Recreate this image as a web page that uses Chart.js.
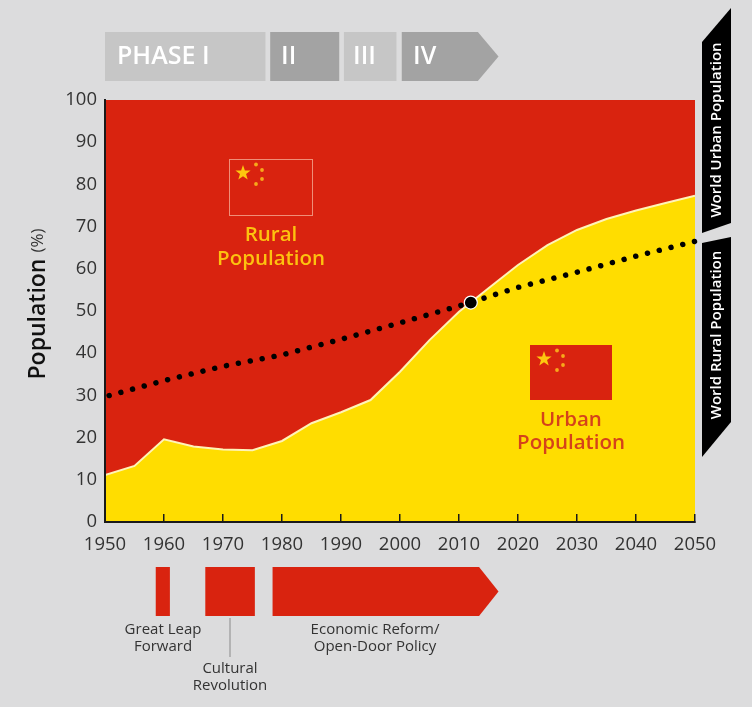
<!DOCTYPE html>
<html>
<head>
<meta charset="utf-8">
<title>China urban and rural population</title>
<script src="https://cdn.jsdelivr.net/npm/chart.js@4"></script>
<style>
    html, body { margin: 0; padding: 0; background: #dcdcdd; }
    canvas { display: block; }
</style>
</head>
<body>
<canvas id="popChart" width="752" height="707"></canvas>
<script>
// China urban share
const urbanYears = [1950, 1955, 1960, 1965, 1970, 1975, 1980, 1985, 1990, 1995, 2000, 2005, 2010, 2015, 2020, 2025, 2030, 2035, 2040, 2045, 2050];
const urbanShare = [11.1, 13.3, 19.6, 17.9, 17.2, 17.0, 19.2, 23.4, 26.0, 28.9, 35.6, 43.1, 49.8, 55.4, 60.9, 65.6, 69.2, 71.8, 73.8, 75.6, 77.3];

// World urban share (dotted line)
const worldYears = [1950, 1960, 1970, 1980, 1990, 2000, 2010, 2020, 2030, 2040, 2050];
const worldShare = [29.7, 33.5, 36.9, 39.6, 43.3, 47.2, 51.2, 55.6, 59.2, 63.0, 66.5];

// Top edge of the rural area
const ruralYears = [1950, 2050];
const ruralTop = [100, 100];

// Crossover point
const crossYear = [2012];
const crossShare = [52];

// Phases across the top
const phaseNames = ['PHASE I', 'II', 'III', 'IV'];
const phaseStart = [1950, 1978, 1990.5, 2000.3];
const phaseEnd = [1977.2, 1989.7, 1999.4, 2013.2];

// Policy periods below the axis
const policyStart = [1958.6, 1967, 1978.4];
const policyEnd = [1961, 1975.4, 2013.4];
const arrowTipYear = 2016.7;

const RED = '#d9230f';
const YELLOW = '#ffdd00';
const FONT = '"Open Sans", sans-serif';

function drawStar(ctx, cx, cy, r, color) {
    ctx.fillStyle = color;
    ctx.beginPath();
    for (let i = 0; i < 10; i++) {
        const rad = i % 2 ? r * 0.4 : r;
        const a = -Math.PI / 2 + i * Math.PI / 5;
        ctx.lineTo(cx + rad * Math.cos(a), cy + rad * Math.sin(a));
    }
    ctx.closePath();
    ctx.fill();
}

function drawFlag(ctx, x, y, w, h, outline) {
    ctx.fillStyle = RED;
    ctx.fillRect(x, y, w, h);
    if (outline) {
        ctx.strokeStyle = outline;
        ctx.lineWidth = 1;
        ctx.strokeRect(x + 0.5, y + 0.5, w - 1, h - 1);
    }
    drawStar(ctx, x + 14, y + 14, 8, '#fdc70f');
    [[27, 5.5], [33, 11], [33, 20], [27, 25]].forEach(p => {
        ctx.fillStyle = '#f7a81b';
        ctx.beginPath();
        ctx.arc(x + p[0], y + p[1], 1.9, 0, Math.PI * 2);
        ctx.fill();
    });
}

function drawLines(ctx, lines, x, y, gap, font, color) {
    ctx.font = font;
    ctx.fillStyle = color;
    ctx.textAlign = 'center';
    ctx.textBaseline = 'middle';
    lines.forEach((t, i) => ctx.fillText(t, x, y + i * gap));
}

function band(ctx, x0, x1, y0, y1, tipX, color) {
    ctx.fillStyle = color;
    ctx.beginPath();
    ctx.moveTo(x0, y0);
    ctx.lineTo(x1, y0);
    if (tipX) ctx.lineTo(tipX, (y0 + y1) / 2);
    ctx.lineTo(x1, y1);
    ctx.lineTo(x0, y1);
    ctx.closePath();
    ctx.fill();
}

function sideTag(ctx, pts, label, cy) {
    ctx.fillStyle = '#000';
    ctx.beginPath();
    pts.forEach(p => ctx.lineTo(p[0], p[1]));
    ctx.closePath();
    ctx.fill();
    ctx.save();
    ctx.translate(717, cy);
    ctx.rotate(-Math.PI / 2);
    ctx.font = '600 15px ' + FONT;
    ctx.fillStyle = '#fff';
    ctx.textAlign = 'center';
    ctx.textBaseline = 'middle';
    ctx.fillText(label, 0, 0);
    ctx.restore();
}

// Everything around the plot: phases, policies, flags, side tags
const decorations = {
    id: 'decorations',
    afterDraw(chart) {
        const ctx = chart.ctx;
        const xs = chart.scales.x;
        ctx.save();

        // phase bar
        const phaseColors = ['#c6c6c6', '#a3a3a3', '#c6c6c6', '#a3a3a3'];
        const phaseTextX = [117, 281, 353, 413];
        phaseNames.forEach((name, i) => {
            const tip = i === phaseNames.length - 1 ? xs.getPixelForValue(arrowTipYear) : null;
            band(ctx, xs.getPixelForValue(phaseStart[i]), xs.getPixelForValue(phaseEnd[i]), 32, 81, tip, phaseColors[i]);
            ctx.font = '600 25px ' + FONT;
            ctx.fillStyle = '#fff';
            ctx.textAlign = 'left';
            ctx.textBaseline = 'middle';
            ctx.fillText(name, phaseTextX[i], 57);
        });

        // policy bar
        policyStart.forEach((start, i) => {
            const tip = i === policyStart.length - 1 ? xs.getPixelForValue(arrowTipYear) : null;
            band(ctx, xs.getPixelForValue(start), xs.getPixelForValue(policyEnd[i]), 567, 616, tip, RED);
        });
        ctx.strokeStyle = '#8a8a8a';
        ctx.lineWidth = 1;
        ctx.beginPath();
        ctx.moveTo(230, 618);
        ctx.lineTo(230, 657);
        ctx.stroke();
        const noteFont = '15px ' + FONT;
        drawLines(ctx, ['Great Leap', 'Forward'], 163, 630, 17, noteFont, '#333');
        drawLines(ctx, ['Cultural', 'Revolution'], 230, 669, 17, noteFont, '#333');
        drawLines(ctx, ['Economic Reform/', 'Open-Door Policy'], 375, 630, 17, noteFont, '#333');

        // flags and area labels
        drawFlag(ctx, 229, 159, 84, 57, '#ef8f78');
        drawLines(ctx, ['Rural', 'Population'], 271, 235, 24, '600 20.5px ' + FONT, '#fdc20f');
        drawFlag(ctx, 530, 345, 82, 55, null);
        drawLines(ctx, ['Urban', 'Population'], 571, 420, 23, '600 20.5px ' + FONT, '#d5421a');

        // y axis title, two sizes
        ctx.save();
        ctx.translate(38, 304);
        ctx.rotate(-Math.PI / 2);
        ctx.textBaseline = 'middle';
        ctx.textAlign = 'left';
        ctx.fillStyle = '#111';
        ctx.font = '600 23px ' + FONT;
        const w1 = ctx.measureText('Population ').width;
        ctx.font = '17px ' + FONT;
        const w2 = ctx.measureText('(%)').width;
        ctx.font = '600 23px ' + FONT;
        ctx.fillText('Population', -(w1 + w2) / 2, 0);
        ctx.font = '17px ' + FONT;
        ctx.fillStyle = '#333';
        ctx.fillText('(%)', -(w1 + w2) / 2 + w1, 0);
        ctx.restore();

        // world urban / rural tags on the right
        sideTag(ctx, [[702, 42], [731, 8], [731, 223], [702, 233]], 'World Urban Population', 130);
        sideTag(ctx, [[702, 243], [731, 237], [731, 422], [702, 457]], 'World Rural Population', 335);

        ctx.restore();
    }
};

new Chart(document.getElementById('popChart'), {
    type: 'line',
    data: {
        datasets: [
            {
                label: 'Crossover',
                data: crossYear.map((x, i) => ({ x, y: crossShare[i] })),
                showLine: false,
                pointRadius: 6.5,
                pointBackgroundColor: '#000',
                pointBorderColor: '#fff',
                pointBorderWidth: 1.2,
                clip: false,
                order: 0
            },
            {
                label: 'World urban population',
                data: worldYears.map((x, i) => ({ x, y: worldShare[i] })),
                borderColor: '#000',
                borderWidth: 5.5,
                borderDash: [0.01, 12.1],
                borderDashOffset: 7.8,
                borderCapStyle: 'round',
                pointRadius: 0,
                fill: false,
                clip: false,
                order: 1
            },
            {
                label: 'Urban population',
                data: urbanYears.map((x, i) => ({ x, y: urbanShare[i] })),
                borderColor: '#fff3b8',
                borderWidth: 2,
                backgroundColor: YELLOW,
                pointRadius: 0,
                fill: 'origin',
                tension: 0,
                order: 2
            },
            {
                label: 'Rural population',
                data: ruralYears.map((x, i) => ({ x, y: ruralTop[i] })),
                borderWidth: 0,
                backgroundColor: RED,
                pointRadius: 0,
                fill: 'origin',
                order: 3
            }
        ]
    },
    options: {
        responsive: false,
        animation: false,
        devicePixelRatio: 1,
        layout: { padding: { top: 100, right: 57, left: 0, bottom: 0 } },
        plugins: { legend: { display: false }, tooltip: { enabled: false } },
        scales: {
            x: {
                type: 'linear',
                min: 1950,
                max: 2050,
                afterFit: s => { s.height = 185; },
                border: { color: '#1a1a1a', width: 2, z: 1 },
                grid: { drawOnChartArea: false, tickLength: -8, color: '#1a1a1a', lineWidth: 1.5, z: 1 },
                ticks: {
                    stepSize: 10,
                    autoSkip: false,
                    maxRotation: 0,
                    padding: 20,
                    color: '#333',
                    font: { family: 'Open Sans', size: 18.5 },
                    callback: v => String(v)
                }
            },
            y: {
                min: 0,
                max: 100,
                afterFit: s => { s.width = 105; },
                border: { color: '#1a1a1a', width: 2, z: 1 },
                grid: { display: false, drawTicks: false },
                ticks: {
                    stepSize: 10,
                    padding: 8,
                    color: '#333',
                    font: { family: 'Open Sans', size: 18.5 }
                }
            }
        }
    },
    plugins: [decorations]
});
</script>
</body>
</html>
